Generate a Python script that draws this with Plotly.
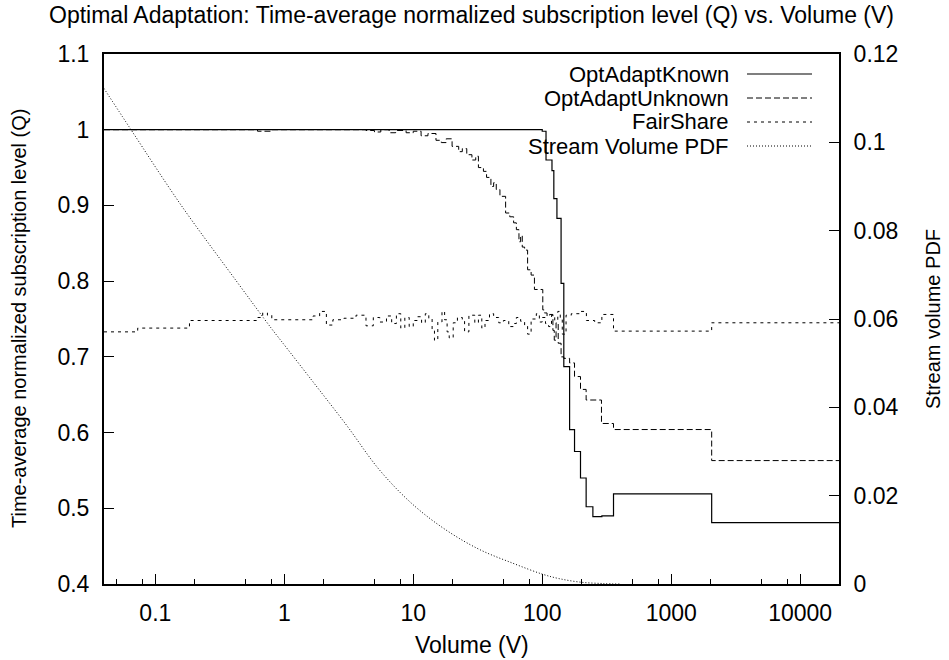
import math
import plotly.graph_objects as go

# ---------------- data ----------------
known_v = [0.04, 100, 107, 119, 123, 130, 140, 147, 163, 178, 198, 219, 247, 290, 357, 2060, 20000]
known_q = [1.0, 0.998, 0.960, 0.946, 0.909, 0.883, 0.797, 0.687, 0.604, 0.575, 0.540, 0.502, 0.489, 0.490, 0.519, 0.481, 0.481]

unk_v = [0.04, 0.62, 0.78, 4.3, 5.0, 5.6, 6.5, 7.3, 8.8, 10,
         11.5, 13, 15, 16.5, 18, 20, 22.5, 24, 26, 28.5,
         30.5, 32, 35, 37, 40, 42, 44, 47, 52, 56,
         60, 63, 66, 68, 70, 73, 77, 82, 87, 101,
         104, 109, 114, 121, 124, 128, 133, 140, 147, 163,
         178, 198, 219, 288, 357, 2060, 20000]
unk_q = [1.0, 0.998, 1.0, 0.999, 0.997, 1.0, 0.996, 0.999, 0.996, 0.998,
         0.992, 0.995, 0.986, 0.983, 0.988, 0.978, 0.971, 0.975, 0.967, 0.960,
         0.965, 0.950, 0.945, 0.937, 0.925, 0.930, 0.921, 0.912, 0.890, 0.885,
         0.877, 0.868, 0.852, 0.860, 0.845, 0.841, 0.815, 0.808, 0.789, 0.762,
         0.758, 0.754, 0.756, 0.735, 0.722, 0.745, 0.718, 0.700, 0.698, 0.692,
         0.674, 0.657, 0.643, 0.612, 0.604, 0.563, 0.563]

fs_v = [0.04, 0.073, 0.184, 0.61, 0.68, 0.74, 0.80, 1.67, 1.88, 2.12,
        2.38, 2.9, 3.6, 4.3, 4.9, 5.5, 6.2, 6.8, 7.4, 8.0,
        8.6, 9.3, 10.0, 10.8, 11.6, 12.4, 13.2, 14.0, 14.6, 15.5,
        16.7, 17.5, 18.3, 19.0, 20.4, 22, 24, 25, 27, 30,
        32, 34, 36, 39, 42, 46, 50, 55, 60, 63,
        68, 73, 77, 82, 90, 95, 100, 106, 112, 118,
        125, 132, 138, 143, 153, 168, 195, 220, 255, 290,
        357, 2060, 20000]
fs_q = [0.733, 0.738, 0.748, 0.752, 0.758, 0.755, 0.749, 0.754, 0.760, 0.742,
        0.749, 0.751, 0.755, 0.741, 0.752, 0.746, 0.754, 0.744, 0.757, 0.738,
        0.752, 0.740, 0.748, 0.753, 0.745, 0.757, 0.750, 0.735, 0.722, 0.746,
        0.760, 0.749, 0.733, 0.725, 0.745, 0.752, 0.748, 0.733, 0.755, 0.745,
        0.755, 0.738, 0.748, 0.757, 0.752, 0.745, 0.748, 0.740, 0.744, 0.752,
        0.747, 0.742, 0.730, 0.750, 0.757, 0.746, 0.752, 0.744, 0.740, 0.755,
        0.748, 0.760, 0.750, 0.730, 0.755, 0.757, 0.760, 0.748, 0.745, 0.756,
        0.734, 0.745, 0.745]

pdf_v = [0.04, 0.065, 0.159, 0.425, 0.793, 0.948, 1.667, 3.03, 5.48, 9.93,
         18.0, 32.7, 59.2, 101, 136, 200, 300, 400]
pdf_y = [0.1122, 0.1028, 0.0857, 0.0686, 0.0579, 0.0550, 0.0458, 0.0360, 0.0258, 0.0180,
         0.0122, 0.0078, 0.0047, 0.0022, 0.0012, 0.0004, 0.0001, 0.0]

x_tickvals = [0.1, 1, 10, 100, 1000, 10000]
x_ticktext = ["0.1", "1", "10", "100", "1000", "10000"]
x_minorvals = [0.05, 0.08, 0.2, 0.5, 0.8, 2, 5, 8, 20, 50, 80, 200, 500, 800, 2000, 5000, 8000]
q_tickvals = [0.4, 0.5, 0.6, 0.7, 0.8, 0.9, 1.0, 1.1]
q_ticktext = ["0.4", "0.5", "0.6", "0.7", "0.8", "0.9", "1", "1.1"]
p_tickvals = [0, 0.02, 0.04, 0.06, 0.08, 0.10, 0.12]
p_ticktext = ["0", "0.02", "0.04", "0.06", "0.08", "0.1", "0.12"]

series_names = ["OptAdaptKnown", "OptAdaptUnknown", "FairShare", "Stream Volume PDF"]
series_dash = ["solid", "6px,3px", "3px,4px", "1px,2px"]

title_text = "Optimal Adaptation: Time-average normalized subscription level (Q) vs. Volume (V)"
x_title = "Volume (V)"
y_title = "Time-average normalized subscription level (Q)"
y2_title = "Stream volume PDF"

# ---------------- figure ----------------
FONT = "Liberation Sans, Arial, sans-serif"
FS = 23      # horizontal text
FSK = 22     # key text
FSV = 20     # rotated axis titles
W, H = 949, 660
ML, MR, MT, MB = 104, 110, 54, 76

fig = go.Figure()
fig.add_trace(go.Scatter(x=known_v, y=known_q, mode="lines", name=series_names[0],
                         line=dict(color="black", width=1.2, shape="hv", dash=series_dash[0])))
fig.add_trace(go.Scatter(x=unk_v, y=unk_q, mode="lines", name=series_names[1],
                         line=dict(color="black", width=1, shape="hv", dash=series_dash[1])))
fig.add_trace(go.Scatter(x=fs_v, y=fs_q, mode="lines", name=series_names[2],
                         line=dict(color="black", width=1, shape="hv", dash=series_dash[2])))
fig.add_trace(go.Scatter(x=pdf_v, y=pdf_y, mode="lines", name=series_names[3], yaxis="y2",
                         line=dict(color="black", width=1, shape="spline", smoothing=1.0, dash=series_dash[3])))

pw = W - ML - MR
ph = H - MT - MB
def px(xp):
    return (xp - ML) / pw
def py(yp):
    return (H - MB - yp) / ph

# manual gnuplot-style key (text right, sample on its right)
key_y = [74, 98, 122, 146]
shapes = []
annotations = []
for i, name in enumerate(series_names):
    annotations.append(dict(x=px(731), y=py(key_y[i]), xref="paper", yref="paper",
                            text=name, showarrow=False, xanchor="right", yanchor="middle",
                            font=dict(family=FONT, size=FSK, color="black")))
    shapes.append(dict(type="line", xref="paper", yref="paper",
                       x0=px(747), x1=px(812), y0=py(key_y[i]), y1=py(key_y[i]),
                       line=dict(color="black", width=1.2 if i == 0 else 1, dash=series_dash[i])))

# axis titles placed like gnuplot's labels
annotations.append(dict(x=0.5, y=py(645), xref="paper", yref="paper", text=x_title,
                        showarrow=False, xanchor="center", yanchor="middle",
                        font=dict(family=FONT, size=FS, color="black")))
annotations.append(dict(x=px(19), y=0.5, xref="paper", yref="paper", text=y_title,
                        showarrow=False, xanchor="center", yanchor="middle", textangle=-90,
                        font=dict(family=FONT, size=FSV, color="black")))
annotations.append(dict(x=px(933), y=0.5, xref="paper", yref="paper", text=y2_title,
                        showarrow=False, xanchor="center", yanchor="middle", textangle=-90,
                        font=dict(family=FONT, size=FSV, color="black")))

fig.update_layout(
    width=W, height=H,
    margin=dict(l=ML, r=MR, t=MT, b=MB, pad=0, autoexpand=False),
    paper_bgcolor="white", plot_bgcolor="white",
    showlegend=False,
    font=dict(family=FONT, size=FS, color="black"),
    title=dict(text=title_text,
               x=0.5, xref="paper", xanchor="center", y=1 - 15 / H, yref="container", yanchor="middle",
               font=dict(family=FONT, size=FS, color="black")),
    xaxis=dict(type="log", range=[math.log10(0.04), math.log10(20000)], automargin=False,
               tickmode="array", tickvals=x_tickvals, ticktext=x_ticktext,
               ticks="inside", ticklen=10, tickwidth=1, tickcolor="black",
               ticklabelstandoff=7,
               minor=dict(tickmode="array", tickvals=x_minorvals, ticks="inside", ticklen=5,
                          tickwidth=1, tickcolor="black", showgrid=False),
               showline=True, linewidth=2, linecolor="black", mirror=True,
               showgrid=False, zeroline=False),
    yaxis=dict(range=[0.4, 1.1], automargin=False,
               tickmode="array", tickvals=q_tickvals, ticktext=q_ticktext,
               ticks="inside", ticklen=10, tickwidth=1, tickcolor="black",
               ticklabelstandoff=8,
               showline=True, linewidth=2, linecolor="black", mirror=False,
               showgrid=False, zeroline=False),
    yaxis2=dict(range=[0, 0.12], overlaying="y", side="right", automargin=False,
                tickmode="array", tickvals=p_tickvals, ticktext=p_ticktext,
                ticks="inside", ticklen=10, tickwidth=1, tickcolor="black",
                ticklabelstandoff=8,
                showline=True, linewidth=2, linecolor="black",
                showgrid=False, zeroline=False),
    shapes=shapes,
    annotations=annotations,
)

fig.write_html("out.html")
